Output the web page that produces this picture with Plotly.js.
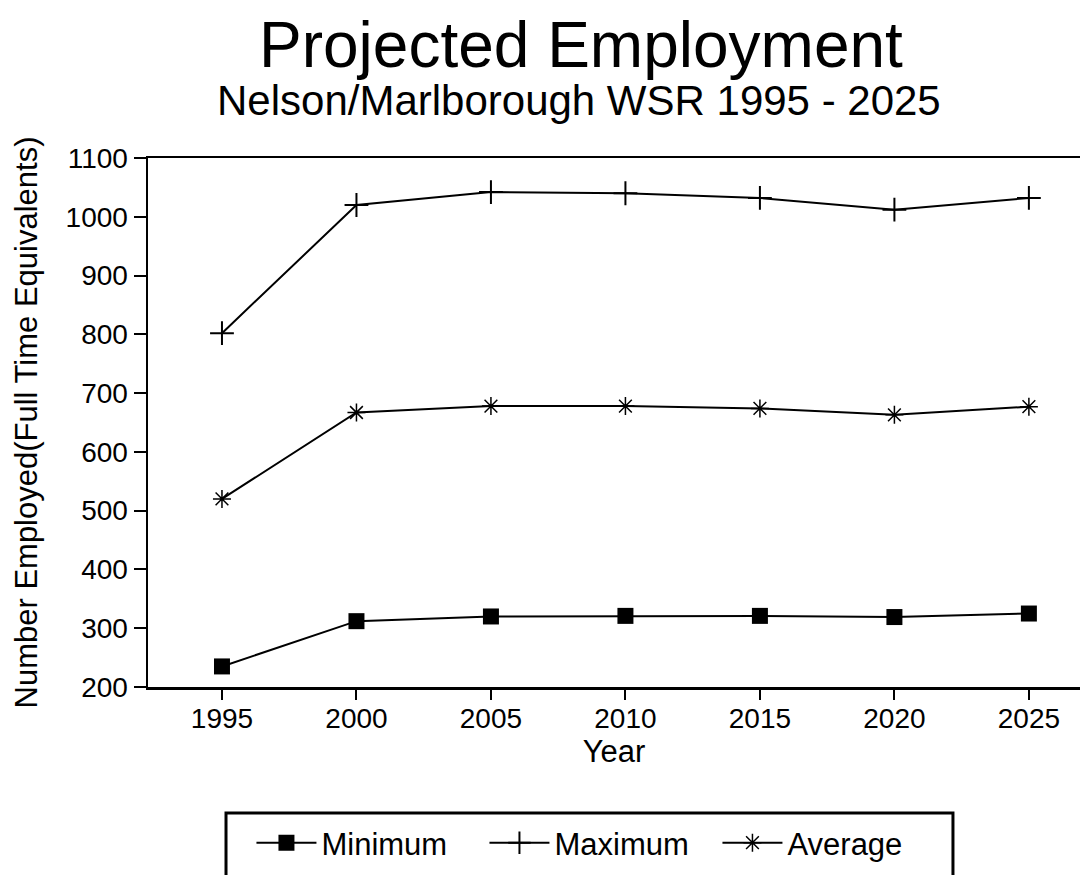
<!DOCTYPE html>
<html>
<head>
<meta charset="utf-8">
<script src="https://cdn.plot.ly/plotly-3.0.1.min.js"></script>
<style>
  html, body { margin: 0; padding: 0; background: #ffffff; }
  #chart { width: 1083px; height: 875px; }
</style>
</head>
<body>
<div id="chart"></div>
<script>
// Data
const years = [1995, 2000, 2005, 2010, 2015, 2020, 2025];
const minimum = [235, 312, 320, 321, 321, 319, 325];
const maximum = [802, 1020, 1042, 1040, 1032, 1012, 1032];
const average = [520, 667, 678, 678, 674, 663, 677];
const yTicks = [200, 300, 400, 500, 600, 700, 800, 900, 1000, 1100];
const seriesNames = ['Minimum', 'Maximum', 'Average'];

const FONT = 'Liberation Sans, Arial, Helvetica, sans-serif';

const traces = [
  {
    x: years, y: minimum, name: seriesNames[0], type: 'scatter', mode: 'lines+markers',
    line: { color: '#000', width: 2 },
    marker: { symbol: 'square', size: 16, color: '#000', line: { width: 0 } }
  },
  {
    x: years, y: maximum, name: seriesNames[1], type: 'scatter', mode: 'lines+markers',
    line: { color: '#000', width: 2 },
    marker: { symbol: 'cross-thin-open', size: 17, color: '#000', line: { width: 2, color: '#000' } }
  },
  {
    x: years, y: average, name: seriesNames[2], type: 'scatter', mode: 'lines+markers',
    line: { color: '#000', width: 2 },
    marker: { symbol: 'asterisk-open', size: 15, color: '#000', line: { width: 1.5, color: '#000' } }
  }
];

const layout = {
  width: 1083, height: 875,
  margin: { l: 148, r: 3, t: 158, b: 188 },
  paper_bgcolor: '#fff', plot_bgcolor: '#fff',
  font: { family: FONT, color: '#000' },
  showlegend: true,
  xaxis: {
    range: [1992.25, 2026.9],
    tickvals: years,
    ticktext: years.map(String),
    ticks: 'outside', ticklen: 10, tickwidth: 2, tickcolor: '#000',
    ticklabelstandoff: -5,
    showline: true, linecolor: '#000', linewidth: 2.5, mirror: true,
    showgrid: false, zeroline: false,
    tickfont: { size: 28, family: FONT, color: '#000' },
    title: { text: 'Year', font: { size: 31, family: FONT, color: '#000' }, standoff: 4 },
    automargin: false
  },
  yaxis: {
    range: [200, 1100],
    tickvals: yTicks,
    ticktext: yTicks.map(String),
    ticks: 'outside', ticklen: 12, tickwidth: 2, tickcolor: '#000',
    showline: true, linecolor: '#000', linewidth: 2.5,
    showgrid: false, zeroline: false,
    tickfont: { size: 28, family: FONT, color: '#000' },
    title: { text: 'Number Employed(Full Time Equivalents)', font: { size: 31, family: FONT, color: '#000' }, standoff: 19 },
    automargin: true
  },
  legend: {
    orientation: 'h',
    x: 0.111, xanchor: 'left',
    y: -0.295, yanchor: 'middle',
    font: { size: 31, family: FONT, color: '#000' },
    bgcolor: 'rgba(0,0,0,0)',
    borderwidth: 0,
    itemwidth: 60,
    entrywidth: 158,
    entrywidthmode: 'pixels'
  },
  shapes: [
    {
      type: 'rect', xref: 'paper', yref: 'paper',
      x0: 0.0837, x1: 0.8637, y0: -0.40, y1: -0.2382,
      line: { color: '#000', width: 3 }, fillcolor: 'rgba(0,0,0,0)'
    }
  ],
  annotations: [
    {
      text: 'Projected Employment', xref: 'paper', yref: 'paper',
      x: 0.4646, y: 1.214, xanchor: 'center', yanchor: 'middle',
      showarrow: false, font: { size: 64, family: FONT, color: '#000' }
    },
    {
      text: 'Nelson/Marlborough WSR 1995 - 2025', xref: 'paper', yref: 'paper',
      x: 0.4624, y: 1.1096, xanchor: 'center', yanchor: 'middle',
      showarrow: false, font: { size: 42, family: FONT, color: '#000' }
    }
  ]
};

Plotly.newPlot('chart', traces, layout, { displayModeBar: false, staticPlot: true });
</script>
</body>
</html>
